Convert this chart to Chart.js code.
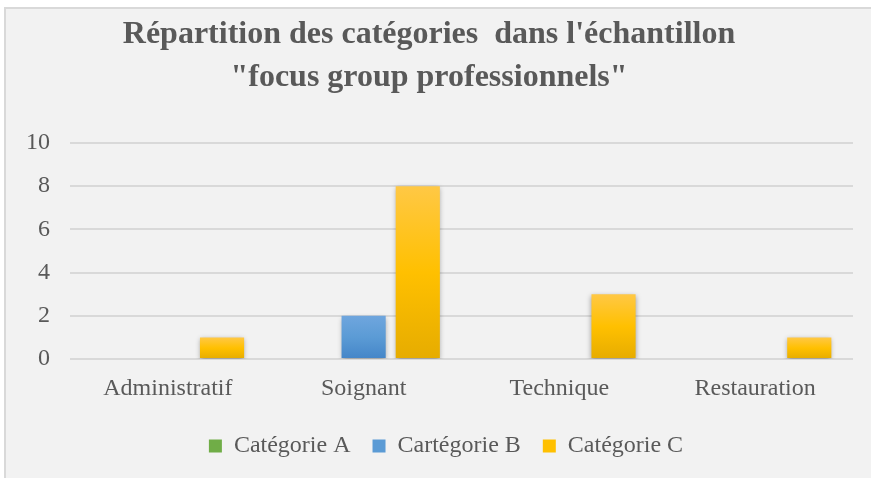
<!DOCTYPE html>
<html><head><meta charset="utf-8">
<script src="https://cdn.jsdelivr.net/npm/chart.js@4.4.1/dist/chart.umd.min.js"></script>
<style>html,body{margin:0;padding:0;background:#fff;}#wrap{width:871px;height:478px;}</style>
</head><body><div id="wrap"><canvas id="c" width="871" height="478"></canvas></div>
<script>
const categories = ["Administratif", "Soignant", "Technique", "Restauration"];
const seriesNames = ["Catégorie A", "Cartégorie B", "Catégorie C"];
const catA = [0, 0, 0, 0];
const catB = [0, 2, 0, 0];
const catC = [1, 8, 3, 1];
const yTicks = [0, 2, 4, 6, 8, 10];
const titleLines = ["Répartition des catégories  dans l'échantillon", "\"focus group professionnels\""];

const FONT = "'Liberation Serif', 'Times New Roman', serif";
const TXT = '#595959';

function grad(top, mid, bot, flat) {
  return function(ctx) {
    const chart = ctx.chart;
    if (!chart.scales || !chart.scales.y || ctx.parsed === undefined || ctx.type !== 'data') return flat;
    const y = chart.scales.y;
    const v = ctx.parsed.y;
    const y0 = y.getPixelForValue(0), y1 = y.getPixelForValue(v);
    if (!isFinite(y0) || !isFinite(y1) || Math.abs(y0 - y1) < 1) return flat;
    const g = chart.ctx.createLinearGradient(0, y1, 0, y0);
    g.addColorStop(0, top); g.addColorStop(0.5, mid); g.addColorStop(1, bot);
    return g;
  };
}

const bgPlugin = {
  id: 'bgbox',
  beforeDraw(chart) {
    const c = chart.ctx;
    c.save();
    c.fillStyle = '#ffffff';
    c.fillRect(0, 0, chart.width, chart.height);
    c.fillStyle = '#f2f2f2';
    c.fillRect(5, 8, chart.width - 5, chart.height - 8);
    c.strokeStyle = '#d9d9d9';
    c.lineWidth = 2;
    c.strokeRect(5, 8, chart.width + 10, chart.height + 10);
    c.restore();
  }
};
const shadowPlugin = {
  id: 'barshadow',
  beforeDatasetsDraw(chart) {
    const c = chart.ctx; c.save();
    c.shadowColor = 'rgba(0,0,0,0.35)';
    c.shadowBlur = 5; c.shadowOffsetX = 0; c.shadowOffsetY = 2;
  },
  afterDatasetsDraw(chart) { chart.ctx.restore(); }
};
const legendShift = {
  id: 'legendShift',
  afterUpdate(chart) {
    const lg = chart.legend;
    if (lg) { lg.left += 17; lg.right += 17; }
  }
};

new Chart(document.getElementById('c'), {
  type: 'bar',
  data: {
    labels: categories,
    datasets: [
      { label: seriesNames[0], data: catA, backgroundColor: grad('#81b95b', '#70ad47', '#63993e', '#70ad47'), legendColor: '#70ad47' },
      { label: seriesNames[1], data: catB, backgroundColor: grad('#6fa6de', '#5b9bd5', '#4485c8', '#5b9bd5'), legendColor: '#5b9bd5' },
      { label: seriesNames[2], data: catC, backgroundColor: grad('#ffc845', '#ffc000', '#e6ac00', '#ffc000'), legendColor: '#ffc000' }
    ]
  },
  options: {
    responsive: false,
    animation: false,
    devicePixelRatio: 1,
    layout: { padding: { left: 5, right: 18, top: 0, bottom: 10 } },
    datasets: { bar: { categoryPercentage: 0.83, barPercentage: 0.815, borderWidth: 0 } },
    plugins: {
      title: {
        display: true, text: titleLines, color: TXT,
        font: { family: FONT, size: 32, weight: 'bold', lineHeight: 1.34 },
        padding: { top: 13.5, bottom: 43.7 }
      },
      legend: {
        position: 'bottom',
        labels: {
          color: TXT, font: { family: FONT, size: 24 }, boxWidth: 13, boxHeight: 13, padding: 22,
          generateLabels(chart) {
            return chart.data.datasets.map((d, i) => ({
              text: d.label, fillStyle: d.legendColor, strokeStyle: d.legendColor, lineWidth: 0,
              hidden: false, datasetIndex: i, fontColor: TXT
            }));
          }
        }
      },
      tooltip: { enabled: false }
    },
    scales: {
      x: {
        afterFit(s) { s.height = 53; },
        grid: { display: false, drawTicks: false },
        border: { display: false },
        ticks: { color: TXT, font: { family: FONT, size: 24 }, padding: 15.6 }
      },
      y: {
        min: 0, max: 10,
        afterFit(s) { s.width = 65; },
        afterBuildTicks(s) { s.ticks = yTicks.map(v => ({ value: v })); },
        grid: { color: '#d9d9d9', lineWidth: 2, drawTicks: false },
        border: { display: false },
        ticks: { color: TXT, font: { family: FONT, size: 24 }, padding: 20, stepSize: 2 }
      }
    }
  },
  plugins: [bgPlugin, shadowPlugin, legendShift]
});
</script></body></html>
